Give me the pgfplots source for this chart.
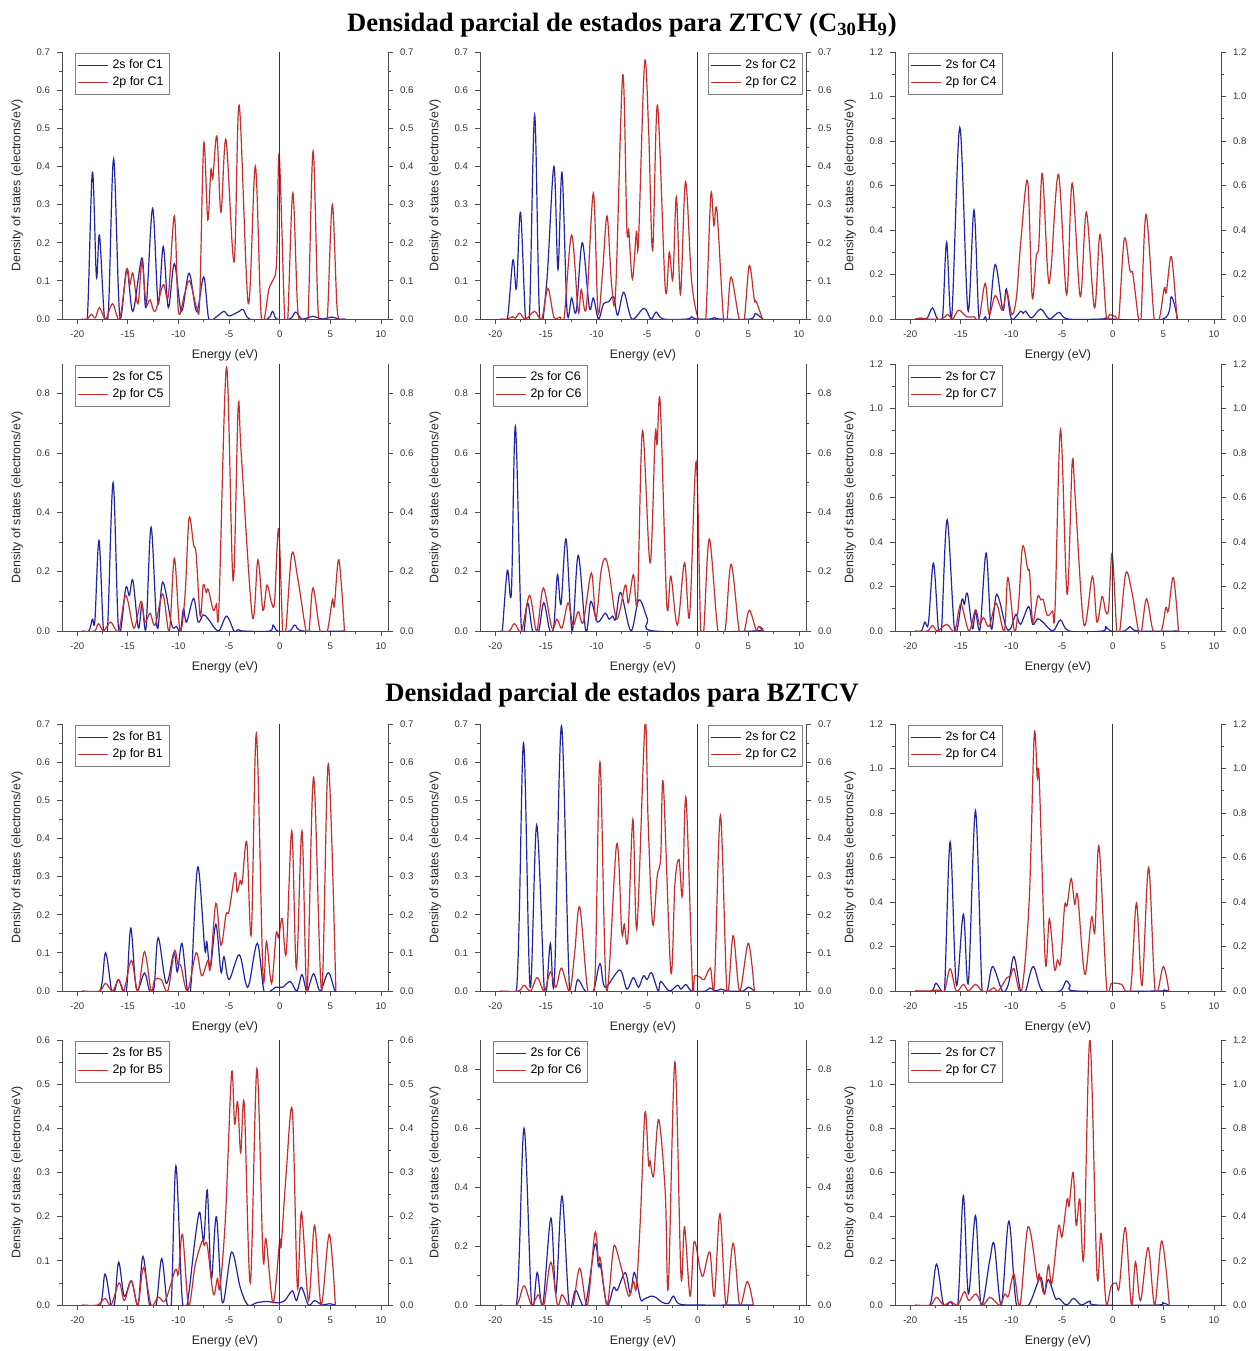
\documentclass[border=0pt]{standalone}
\usepackage{fontspec}
\setmainfont{Liberation Sans}
\newfontfamily\titlefont{Liberation Serif}
\usepackage{pgfplots}
\pgfplotsset{compat=1.18}

\definecolor{azulc}{RGB}{35,35,165}
\definecolor{rojoc}{RGB}{200,45,45}

\pgfplotsset{
  base/.style={scale only axis, width=163pt, height=133.5pt, anchor=north west,
    xmin=-21.5, xmax=10.7, ymin=0,
    xtick={-20,-15,...,10}, minor x tick num=1, minor y tick num=1,
    tick align=outside, axis line style={black!70,-}, tick style={black!70, line width=0.4pt},
    major tick length=2.5pt, minor tick length=1.5pt,
    ticklabel style={font=\fontsize{4.8}{5.5}\selectfont, text=black!80},
    /pgf/number format/assume math mode=true,
    yticklabel style={/pgf/number format/.cd, fixed, fixed zerofill, precision=1},
  },
  izq/.style={base, axis x line*=bottom, axis y line*=left,
    xlabel={Energy (eV)}, ylabel={Density of states (electrons/eV)},
    label style={font=\fontsize{6.2}{7}\selectfont, text=black!85},
    xlabel style={yshift=1pt},
    legend style={draw=black!50, line width=0.3pt, font=\fontsize{6.2}{7}\selectfont,
      inner sep=1pt, row sep=-1.5pt, legend cell align=left,
      at={(0.04,0.995)}, anchor=north west},
    legend image code/.code={\draw[#1] (0pt,0pt) -- (15pt,0pt);},
  },
  legder/.style={legend style={at={(0.99,0.995)}, anchor=north east}},
  der/.style={base, axis x line=none, axis y line*=right},
  abajo/.style={height=132.5pt},
  azul/.style={color=azulc, line width=0.6pt, smooth, tension=0.55},
  rojo/.style={color=rojoc, line width=0.6pt, smooth, tension=0.55},
  cero/.style={black!80, line width=0.5pt, forget plot},
}

\begin{document}
\begin{tikzpicture}
\useasboundingbox (0,0) rectangle (625pt,-675.5pt);

\node[font=\titlefont\bfseries\fontsize{13.3}{15}\selectfont] at (311pt,-12.5pt)
  {Densidad parcial de estados para ZTCV (C\textsubscript{30}H\textsubscript{9})};
\node[font=\titlefont\bfseries\fontsize{13.3}{15}\selectfont] at (311pt,-347.5pt)
  {Densidad parcial de estados para BZTCV};

% ---------- ZTCV, C1
\begin{axis}[izq, at={(31pt,-26pt)}, ymax=0.7, ytick={0,0.1,...,0.7}]
\addplot[azul] coordinates {(-19.5,0) (-19.0,0) (-18.5,0.385) (-18.1,0.11) (-17.8,0.22) (-17.3,0.0) (-16.9,0.03) (-16.4,0.42) (-15.8,0.01) (-15.1,0.13) (-14.5,0.02) (-13.6,0.16) (-13.2,0.03) (-12.55,0.29) (-12.0,0.04) (-11.5,0.19) (-11.0,0.03) (-10.4,0.145) (-9.7,0.02) (-8.95,0.12) (-8.2,0.02) (-7.5,0.11) (-7.0,0.0) (-6.3,0.005) (-5.5,0.02) (-5.0,0.008) (-4.0,0.02) (-3.6,0.025) (-3.0,0.0) (-1.2,0) (-0.7,0.02) (-0.3,0) (1.0,0) (1.6,0.018) (2.2,0) (3.3,0.007) (4.2,0) (5.2,0.005) (5.8,0) (6.5,0)};
\addlegendentry{2s for C1}
\addplot[rojo] coordinates {(-19.5,0) (-19.0,0) (-18.6,0.012) (-18.2,0.003) (-17.8,0.03) (-17.2,0.0) (-16.5,0.04) (-15.8,0.0) (-15.1,0.13) (-14.8,0.09) (-14.5,0.12) (-14.0,0.04) (-13.6,0.15) (-13.2,0.04) (-12.8,0.05) (-12.3,0.02) (-11.5,0.09) (-11.0,0.06) (-10.4,0.27) (-10.0,0.02) (-9.4,0.065) (-8.9,0.1) (-8.2,0.03) (-7.9,0.05) (-7.5,0.46) (-7.1,0.26) (-6.8,0.39) (-6.6,0.37) (-6.2,0.48) (-5.8,0.28) (-5.3,0.47) (-4.5,0.15) (-4.0,0.56) (-3.1,0.04) (-2.4,0.40) (-1.8,0.0) (-1.05,0.08) (-0.7,0.1) (-0.3,0.15) (-0.05,0.43) (0.5,0.0) (0.8,0.0) (1.3,0.33) (1.8,0.02) (2.4,0.0) (2.8,0.0) (3.3,0.44) (3.8,0.02) (4.3,0.0) (4.7,0.0) (5.2,0.30) (5.7,0.02) (6.3,0.0)};
\addlegendentry{2p for C1}
\addplot[cero] coordinates {(0,0) (0,0.7)};
\end{axis}
\begin{axis}[der, at={(31pt,-26pt)}, ymax=0.7, ytick={0,0.1,...,0.7}]
\end{axis}

% ---------- ZTCV, C2
\begin{axis}[izq, legder, at={(240pt,-26pt)}, ymax=0.7, ytick={0,0.1,...,0.7}]
\addplot[azul] coordinates {(-19.5,0) (-18.8,0) (-18.25,0.155) (-17.9,0.08) (-17.5,0.28) (-17.0,0.0) (-16.6,0.02) (-16.1,0.535) (-15.6,0.0) (-14.9,0.1) (-14.2,0.40) (-13.8,0.13) (-13.4,0.385) (-12.9,0.02) (-12.45,0.055) (-12.0,0.02) (-11.4,0.20) (-10.7,0.03) (-10.3,0.055) (-9.8,0.0) (-9.3,0.04) (-8.8,0.045) (-8.3,0.058) (-7.9,0.01) (-7.3,0.07) (-6.5,0.0) (-5.3,0.028) (-4.6,0.0) (-4.1,0.018) (-3.4,0.0) (-1.0,0) (-0.6,0.006) (-0.2,0) (1.3,0) (1.7,0.004) (2.1,0) (5.2,0) (5.7,0.014) (6.4,0)};
\addlegendentry{2s for C2}
\addplot[rojo] coordinates {(-19.5,0) (-18.8,0) (-18.3,0.006) (-18.0,0.002) (-17.6,0.015) (-17.0,0.0) (-16.1,0.02) (-15.4,0.0) (-14.8,0.08) (-14.2,0.005) (-13.6,0.005) (-13.2,0.0) (-12.45,0.22) (-11.8,0.02) (-11.5,0.077) (-11.0,0.03) (-10.3,0.33) (-9.85,0.02) (-9.4,0.12) (-8.95,0.27) (-8.5,0.09) (-8.1,0.075) (-7.4,0.64) (-7.0,0.24) (-6.8,0.23) (-6.45,0.105) (-6.05,0.23) (-5.85,0.2) (-5.25,0.67) (-4.85,0.5) (-4.45,0.18) (-3.97,0.56) (-3.2,0.08) (-2.8,0.175) (-2.45,0.105) (-2.1,0.32) (-1.7,0.065) (-1.2,0.36) (-0.6,0.1) (0.0,0.005) (0.4,0.0) (0.8,0.0) (1.3,0.325) (1.6,0.245) (1.9,0.285) (2.55,0.0) (2.9,0.0) (3.3,0.11) (4.1,0.0) (4.6,0.0) (5.1,0.14) (5.6,0.05) (5.8,0.045) (6.4,0.0)};
\addlegendentry{2p for C2}
\addplot[cero] coordinates {(0,0) (0,0.7)};
\end{axis}
\begin{axis}[der, at={(240pt,-26pt)}, ymax=0.7, ytick={0,0.1,...,0.7}]
\end{axis}

% ---------- ZTCV, C4
\begin{axis}[izq, at={(447.5pt,-26pt)}, ymax=1.2, ytick={0,0.2,...,1.2}]
\addplot[azul] coordinates {(-19.5,0) (-18.75,0) (-18.3,0.005) (-17.8,0.05) (-17.3,0.0) (-16.8,0.01) (-16.4,0.345) (-15.9,0.01) (-15.1,0.86) (-14.3,0.04) (-13.7,0.49) (-13.2,0.0) (-12.6,0.01) (-12.2,0.0) (-11.6,0.245) (-10.85,0.04) (-10.5,0.135) (-10.0,0.0) (-9.1,0.035) (-8.85,0.025) (-8.6,0.035) (-8.0,0.005) (-7.1,0.045) (-6.25,0.0) (-5.3,0.03) (-4.45,0.0) (-1.0,0) (-0.65,0.005) (-0.3,0) (5.0,0) (5.8,0.1) (6.4,0)};
\addlegendentry{2s for C4}
\addplot[rojo] coordinates {(-19.5,0) (-18.9,0.005) (-18.5,0) (-16.9,0) (-16.3,0.02) (-15.8,0.0) (-15.2,0.04) (-14.4,0.01) (-13.7,0.01) (-13.2,0.0) (-12.6,0.16) (-12.2,0.02) (-11.6,0.105) (-10.9,0.04) (-10.45,0.12) (-9.95,0.02) (-9.5,0.1) (-9.05,0.36) (-8.4,0.62) (-7.95,0.1) (-7.55,0.28) (-7.3,0.33) (-6.95,0.655) (-6.4,0.2) (-6.1,0.22) (-5.35,0.65) (-4.55,0.11) (-4.0,0.61) (-3.2,0.1) (-2.6,0.48) (-1.8,0.05) (-1.25,0.38) (-0.65,0.02) (-0.3,0.02) (0.3,0.01) (0.6,0.0) (1.15,0.36) (1.7,0.22) (2.0,0.2) (2.55,0.0) (2.8,0.0) (3.3,0.47) (4.1,0.0) (4.6,0.0) (5.1,0.14) (5.3,0.12) (5.8,0.28) (6.35,0.0)};
\addlegendentry{2p for C4}
\addplot[cero] coordinates {(0,0) (0,1.2)};
\end{axis}
\begin{axis}[der, at={(447.5pt,-26pt)}, ymax=1.2, ytick={0,0.2,...,1.2}]
\end{axis}

% ---------- ZTCV, C5
\begin{axis}[izq, at={(31pt,-182pt)}, ymax=0.9, ytick={0,0.2,...,0.8}]
\addplot[azul] coordinates {(-19.5,0) (-18.85,0) (-18.5,0.04) (-18.25,0.035) (-17.85,0.305) (-17.4,0.0) (-17.0,0.01) (-16.45,0.5) (-15.9,0.0) (-15.2,0.145) (-14.85,0.12) (-14.5,0.17) (-13.95,0.01) (-13.6,0.09) (-13.2,0.01) (-12.7,0.35) (-12.1,0.01) (-11.55,0.165) (-10.65,0.02) (-10.2,0.015) (-9.8,0.0) (-9.5,0.075) (-9.2,0.03) (-8.5,0.11) (-8.05,0.03) (-7.55,0.055) (-7.05,0.04) (-6.05,0.0) (-5.25,0.05) (-4.5,0.0) (-4.1,0.005) (-3.6,0) (-1.0,0) (-0.65,0.02) (-0.2,0) (1.0,0) (1.5,0.02) (2.3,0) (6.5,0)};
\addlegendentry{2s for C5}
\addplot[rojo] coordinates {(-19.5,0) (-18.3,0) (-17.9,0.025) (-17.4,0.0) (-16.7,0.03) (-15.9,0.0) (-15.2,0.12) (-14.4,0.01) (-13.7,0.1) (-13.3,0.03) (-12.8,0.06) (-12.3,0.02) (-11.55,0.125) (-10.9,0.0) (-10.4,0.245) (-9.85,0.0) (-9.35,0.12) (-8.95,0.38) (-8.5,0.29) (-8.25,0.26) (-7.85,0.05) (-7.55,0.155) (-7.25,0.13) (-7.05,0.14) (-6.55,0.07) (-6.25,0.09) (-6.0,0.08) (-5.25,0.89) (-4.6,0.17) (-4.1,0.755) (-3.8,0.6) (-2.7,0.05) (-2.15,0.24) (-1.65,0.07) (-1.25,0.155) (-0.8,0.095) (-0.5,0.1) (-0.1,0.345) (0.3,0.0) (0.6,0.0) (1.2,0.26) (1.8,0.175) (2.6,0.0) (2.9,0.0) (3.3,0.145) (4.0,0.0) (4.7,0.0) (5.2,0.105) (5.4,0.085) (5.85,0.24) (6.4,0.0)};
\addlegendentry{2p for C5}
\addplot[cero] coordinates {(0,0) (0,0.9)};
\end{axis}
\begin{axis}[der, at={(31pt,-182pt)}, ymax=0.9, ytick={0,0.2,...,0.8}]
\end{axis}

% ---------- ZTCV, C6
\begin{axis}[izq, at={(240pt,-182pt)}, ymax=0.9, ytick={0,0.2,...,0.8}]
\addplot[azul] coordinates {(-19.5,0) (-19.3,0) (-18.8,0.205) (-18.4,0.13) (-18.0,0.69) (-17.4,0.0) (-16.8,0.095) (-16.3,0.0) (-15.7,0.0) (-15.2,0.095) (-14.6,0.0) (-14.2,0.02) (-13.85,0.19) (-13.5,0.09) (-13.0,0.31) (-12.4,0.0) (-11.8,0.255) (-11.05,0.0) (-10.55,0.1) (-9.9,0.03) (-9.15,0.06) (-8.75,0.04) (-8.4,0.05) (-8.1,0.04) (-7.6,0.13) (-6.6,0.0) (-5.8,0.105) (-4.95,0.04) (-4.3,0.0) (5.6,0) (6.1,0.015) (6.5,0)};
\addlegendentry{2s for C6}
\addplot[rojo] coordinates {(-19.5,0) (-18.6,0) (-18.1,0.025) (-17.4,0.0) (-16.6,0.12) (-15.9,0.0) (-15.25,0.145) (-14.4,0.01) (-13.9,0.04) (-13.4,0.01) (-12.8,0.095) (-12.3,0.02) (-11.8,0.065) (-11.3,0.03) (-10.5,0.195) (-10.05,0.04) (-9.55,0.2) (-9.15,0.245) (-8.75,0.2) (-8.0,0.04) (-7.15,0.155) (-6.85,0.095) (-6.35,0.19) (-5.95,0.1) (-5.45,0.675) (-4.7,0.23) (-4.2,0.66) (-4.0,0.63) (-3.7,0.77) (-3.05,0.09) (-2.65,0.185) (-2.0,0.02) (-1.3,0.23) (-0.8,0.05) (-0.15,0.57) (0.3,0.0) (0.6,0.0) (1.15,0.31) (2.0,0.0) (2.7,0.0) (3.3,0.225) (4.1,0.0) (4.6,0.0) (5.1,0.07) (5.8,0.0) (6.0,0.015) (6.5,0.0)};
\addlegendentry{2p for C6}
\addplot[cero] coordinates {(0,0) (0,0.9)};
\end{axis}
\begin{axis}[der, at={(240pt,-182pt)}, ymax=0.9, ytick={0,0.2,...,0.8}]
\end{axis}

% ---------- ZTCV, C7
\begin{axis}[izq, at={(447.5pt,-182pt)}, ymax=1.2, ytick={0,0.2,...,1.2}]
\addplot[azul] coordinates {(-19.5,0) (-18.9,0) (-18.55,0.04) (-18.2,0.035) (-17.7,0.305) (-17.2,0.0) (-16.9,0.01) (-16.35,0.5) (-15.6,0.0) (-14.9,0.14) (-14.65,0.12) (-14.35,0.17) (-13.85,0.01) (-13.55,0.09) (-13.1,0.01) (-12.5,0.35) (-12.0,0.01) (-11.45,0.165) (-10.55,0.02) (-10.1,0.01) (-9.55,0.075) (-9.1,0.03) (-8.3,0.11) (-7.9,0.03) (-7.4,0.055) (-6.9,0.04) (-5.9,0.0) (-5.15,0.05) (-4.3,0.0) (-1.0,0) (-0.7,0.02) (-0.2,0) (1.2,0) (1.7,0.02) (2.5,0) (6.5,0)};
\addlegendentry{2s for C7}
\addplot[rojo] coordinates {(-19.5,0) (-18.3,0) (-17.8,0.025) (-17.3,0) (-16.4,0.03) (-15.6,0.0) (-15.0,0.12) (-14.2,0.0) (-13.55,0.095) (-13.15,0.03) (-12.75,0.06) (-12.2,0.02) (-11.5,0.125) (-10.7,0.0) (-10.35,0.24) (-9.7,0.0) (-9.3,0.12) (-8.9,0.38) (-8.4,0.28) (-8.2,0.26) (-7.9,0.04) (-7.4,0.155) (-7.1,0.14) (-6.85,0.14) (-6.45,0.07) (-5.95,0.09) (-5.7,0.09) (-5.15,0.905) (-4.5,0.165) (-4.0,0.755) (-3.7,0.6) (-2.85,0.03) (-2.0,0.245) (-1.55,0.04) (-1.05,0.155) (-0.7,0.09) (-0.4,0.1) (-0.05,0.35) (0.4,0.0) (0.7,0.0) (1.3,0.26) (1.9,0.175) (2.55,0.0) (2.85,0.0) (3.35,0.145) (4.0,0.0) (4.8,0.0) (5.25,0.105) (5.5,0.09) (6.0,0.24) (6.5,0.0)};
\addlegendentry{2p for C7}
\addplot[cero] coordinates {(0,0) (0,1.2)};
\end{axis}
\begin{axis}[der, at={(447.5pt,-182pt)}, ymax=1.2, ytick={0,0.2,...,1.2}]
\end{axis}

% ---------- BZTCV, B1
\begin{axis}[izq, at={(31pt,-362pt)}, ymax=0.7, ytick={0,0.1,...,0.7}]
\addplot[azul] coordinates {(-19.5,0) (-17.75,0) (-17.2,0.1) (-16.6,0.0) (-16.3,0.0) (-15.95,0.03) (-15.4,0.0) (-15.1,0.01) (-14.7,0.165) (-14.15,0.005) (-13.35,0.047) (-12.85,0.0) (-12.4,0.01) (-12.0,0.14) (-11.2,0.02) (-10.45,0.1) (-10.1,0.05) (-9.65,0.125) (-9.1,0.0) (-8.75,0.02) (-8.1,0.325) (-7.4,0.11) (-7.2,0.13) (-6.85,0.06) (-6.3,0.175) (-5.8,0.05) (-5.5,0.09) (-5.0,0.03) (-4.0,0.095) (-3.35,0.02) (-3.0,0.02) (-2.2,0.125) (-1.55,0.0) (-0.9,0.0) (-0.4,0.01) (0.3,0.01) (1.05,0.025) (1.7,0.0) (2.2,0.043) (2.7,0.0) (3.35,0.045) (4.0,0.0) (4.8,0.048) (5.45,0.0) (5.6,0)};
\addlegendentry{2s for B1}
\addplot[rojo] coordinates {(-19.5,0) (-17.8,0) (-17.2,0.02) (-16.5,0.0) (-15.9,0.03) (-15.4,0.0) (-14.65,0.08) (-14.0,0.0) (-13.35,0.103) (-12.7,0.0) (-12.35,0.03) (-11.7,0.03) (-11.05,0.0) (-10.4,0.105) (-10.05,0.07) (-9.75,0.065) (-9.1,0.0) (-8.25,0.1) (-7.7,0.04) (-7.1,0.08) (-6.85,0.06) (-6.3,0.23) (-5.8,0.12) (-5.3,0.2) (-5.0,0.21) (-4.4,0.31) (-4.2,0.26) (-3.9,0.29) (-3.7,0.285) (-3.25,0.39) (-2.8,0.15) (-2.3,0.675) (-1.65,0.045) (-1.3,0.13) (-0.8,0.02) (-0.35,0.15) (-0.1,0.14) (0.25,0.19) (0.65,0.1) (1.2,0.42) (1.65,0.06) (2.2,0.42) (2.7,0.0) (3.35,0.56) (4.15,0.0) (4.8,0.595) (5.55,0.0)};
\addlegendentry{2p for B1}
\addplot[cero] coordinates {(0,0) (0,0.7)};
\end{axis}
\begin{axis}[der, at={(31pt,-362pt)}, ymax=0.7, ytick={0,0.1,...,0.7}]
\end{axis}

% ---------- BZTCV, C2
\begin{axis}[izq, legder, at={(240pt,-362pt)}, ymax=0.7, ytick={0,0.1,...,0.7}]
\addplot[azul] coordinates {(-19.5,0) (-17.9,0) (-17.2,0.65) (-16.55,0.01) (-15.9,0.435) (-15.15,0.0) (-14.9,0.01) (-14.55,0.125) (-14.15,0.03) (-13.45,0.695) (-12.65,0.0) (-11.85,0.03) (-11.1,0.0) (-10.3,0.0) (-9.65,0.072) (-9.15,0.01) (-7.7,0.055) (-7.0,0.005) (-6.35,0.035) (-5.85,0.01) (-5.35,0.04) (-5.0,0.03) (-4.55,0.048) (-3.9,0.0) (-3.65,0.025) (-2.8,0.0) (-2.0,0.015) (-1.65,0.005) (-1.15,0.017) (-0.6,0.0) (0.8,0) (1.2,0.008) (1.8,0) (2.3,0.005) (3.0,0) (4.5,0) (5.0,0.01) (5.6,0)};
\addlegendentry{2s for C2}
\addplot[rojo] coordinates {(-19.5,0) (-17.7,0) (-17.15,0.015) (-16.5,0.0) (-15.85,0.035) (-15.15,0.0) (-14.55,0.05) (-14.0,0.01) (-13.45,0.06) (-12.65,0.0) (-12.15,0.1) (-11.65,0.22) (-10.85,0.0) (-10.15,0.03) (-9.65,0.6) (-9.0,0.0) (-8.0,0.385) (-7.5,0.155) (-7.25,0.175) (-6.9,0.135) (-6.4,0.45) (-6.0,0.165) (-5.2,0.7) (-4.9,0.45) (-4.45,0.175) (-4.0,0.3) (-3.65,0.35) (-3.4,0.545) (-2.65,0.05) (-2.25,0.28) (-1.85,0.345) (-1.5,0.25) (-1.15,0.505) (-0.5,0.01) (-0.3,0.04) (0.3,0.035) (0.65,0.03) (1.25,0.06) (1.65,0.02) (2.25,0.46) (2.9,0.0) (3.5,0.145) (4.15,0.0) (5.0,0.125) (5.6,0.0)};
\addlegendentry{2p for C2}
\addplot[cero] coordinates {(0,0) (0,0.7)};
\end{axis}
\begin{axis}[der, at={(240pt,-362pt)}, ymax=0.7, ytick={0,0.1,...,0.7}]
\end{axis}

% ---------- BZTCV, C4
\begin{axis}[izq, at={(447.5pt,-362pt)}, ymax=1.2, ytick={0,0.2,...,1.2}]
\addplot[azul] coordinates {(-19.5,0) (-17.9,0) (-17.45,0.035) (-16.9,0.0) (-16.6,0.01) (-16.05,0.67) (-15.45,0.03) (-14.75,0.345) (-14.25,0.04) (-13.55,0.81) (-12.9,0.0) (-12.4,0.0) (-11.85,0.11) (-10.9,0.0) (-10.3,0.03) (-9.75,0.155) (-9.1,0.0) (-8.6,0.0) (-7.85,0.11) (-6.95,0.0) (-5.2,0.0) (-4.6,0.045) (-4.2,0.025) (-3.6,0.0) (4.5,0) (5.0,0.005) (5.5,0)};
\addlegendentry{2s for C4}
\addplot[rojo] coordinates {(-19.5,0) (-17.8,0) (-17.4,0.005) (-17.0,0.0) (-16.6,0.0) (-16.05,0.1) (-15.45,0.0) (-14.75,0.03) (-14.25,0.0) (-13.55,0.03) (-12.9,0.0) (-12.2,0.0) (-11.75,0.015) (-11.3,0.0) (-10.45,0.06) (-10.1,0.065) (-9.75,0.1) (-9.0,0.0) (-8.25,0.4) (-7.75,1.15) (-7.45,0.96) (-7.25,0.95) (-6.65,0.13) (-6.25,0.325) (-5.75,0.1) (-5.45,0.14) (-5.15,0.13) (-4.75,0.38) (-4.5,0.385) (-4.1,0.505) (-3.75,0.39) (-3.45,0.425) (-2.75,0.075) (-2.1,0.33) (-1.75,0.27) (-1.35,0.65) (-0.6,0.02) (-0.1,0.035) (0.85,0.03) (1.75,0.0) (2.35,0.395) (2.9,0.025) (3.55,0.555) (4.2,0.0) (5.0,0.11) (5.55,0.0)};
\addlegendentry{2p for C4}
\addplot[cero] coordinates {(0,0) (0,1.2)};
\end{axis}
\begin{axis}[der, at={(447.5pt,-362pt)}, ymax=1.2, ytick={0,0.2,...,1.2}]
\end{axis}

% ---------- BZTCV, B5
\begin{axis}[izq, abajo, at={(31pt,-520pt)}, ymax=0.6, ytick={0,0.1,...,0.6}]
\addplot[azul] coordinates {(-19.5,0) (-17.75,0) (-17.25,0.07) (-16.65,0.0) (-16.3,0.005) (-15.9,0.097) (-15.35,0.02) (-14.65,0.055) (-14.0,0.0) (-13.5,0.11) (-12.85,0.0) (-12.2,0.0) (-11.65,0.105) (-11.1,0.0) (-10.7,0.005) (-10.25,0.315) (-9.65,0.02) (-9.15,0.0) (-8.35,0.15) (-7.9,0.21) (-7.5,0.145) (-7.15,0.26) (-6.75,0.06) (-6.25,0.2) (-5.65,0.005) (-4.75,0.12) (-3.9,0.04) (-3.15,0.0) (-2.3,0.005) (-1.3,0.008) (-0.2,0.005) (0.5,0.01) (1.25,0.032) (1.65,0.01) (2.15,0.04) (2.85,0.0) (3.45,0.01) (4.2,0.0) (4.9,0.003) (5.5,0)};
\addlegendentry{2s for B5}
\addplot[rojo] coordinates {(-19.5,0) (-18.0,0) (-17.25,0.015) (-16.65,0.0) (-15.85,0.05) (-15.35,0.01) (-14.65,0.055) (-14.0,0.0) (-13.45,0.085) (-12.7,0.0) (-12.0,0.018) (-11.3,0.01) (-10.3,0.08) (-10.0,0.07) (-9.6,0.16) (-9.0,0.0) (-8.35,0.09) (-7.65,0.145) (-7.45,0.135) (-7.15,0.135) (-6.55,0.025) (-6.15,0.06) (-5.9,0.04) (-5.35,0.2) (-4.75,0.525) (-4.45,0.41) (-4.15,0.46) (-3.85,0.345) (-3.5,0.455) (-2.9,0.05) (-2.25,0.535) (-1.65,0.11) (-1.35,0.15) (-0.65,0.005) (0.0,0.145) (0.15,0.135) (0.65,0.3) (1.25,0.44) (1.75,0.04) (2.15,0.21) (2.85,0.01) (3.45,0.18) (4.1,0.0) (4.9,0.16) (5.5,0.0)};
\addlegendentry{2p for B5}
\addplot[cero] coordinates {(0,0) (0,0.6)};
\end{axis}
\begin{axis}[der, abajo, at={(31pt,-520pt)}, ymax=0.6, ytick={0,0.1,...,0.6}]
\end{axis}

% ---------- BZTCV, C6
\begin{axis}[izq, abajo, at={(240pt,-520pt)}, ymax=0.9, ytick={0,0.2,...,0.8}]
\addplot[azul] coordinates {(-19.5,0) (-17.9,0) (-17.15,0.6) (-16.4,0.0) (-15.85,0.11) (-15.3,0.0) (-14.5,0.295) (-14.0,0.04) (-13.4,0.37) (-12.7,0.0) (-12.05,0.05) (-11.1,0.0) (-10.15,0.205) (-9.8,0.13) (-9.6,0.135) (-8.95,0.0) (-8.3,0.06) (-7.95,0.05) (-7.15,0.11) (-6.65,0.04) (-6.25,0.11) (-5.65,0.02) (-5.3,0.02) (-4.6,0.03) (-4.1,0.025) (-3.55,0.01) (-2.9,0.005) (-2.4,0.03) (-1.9,0.005) (-0.6,0.0) (5.5,0)};
\addlegendentry{2s for C6}
\addplot[rojo] coordinates {(-19.5,0) (-17.9,0) (-17.15,0.065) (-16.4,0.0) (-15.75,0.035) (-15.2,0.0) (-14.5,0.145) (-13.85,0.0) (-13.4,0.035) (-12.8,0.0) (-12.3,0.0) (-11.65,0.125) (-10.9,0.0) (-10.15,0.245) (-9.8,0.15) (-9.6,0.155) (-8.95,0.0) (-8.4,0.17) (-8.15,0.2) (-7.5,0.12) (-6.8,0.03) (-6.35,0.08) (-6.05,0.06) (-5.65,0.3) (-5.2,0.655) (-4.85,0.48) (-4.7,0.49) (-4.35,0.44) (-3.85,0.63) (-3.2,0.38) (-2.9,0.06) (-2.25,0.825) (-1.65,0.1) (-1.3,0.265) (-0.75,0.03) (-0.35,0.215) (0.25,0.12) (0.55,0.1) (1.2,0.18) (1.65,0.03) (2.2,0.31) (2.8,0.0) (3.5,0.21) (4.15,0.0) (4.9,0.08) (5.5,0.0)};
\addlegendentry{2p for C6}
\addplot[cero] coordinates {(0,0) (0,0.9)};
\end{axis}
\begin{axis}[der, abajo, at={(240pt,-520pt)}, ymax=0.9, ytick={0,0.2,...,0.8}]
\end{axis}

% ---------- BZTCV, C7
\begin{axis}[izq, abajo, at={(447.5pt,-520pt)}, ymax=1.2, ytick={0,0.2,...,1.2}]
\addplot[azul] coordinates {(-19.5,0) (-18.05,0) (-17.4,0.185) (-16.7,0.0) (-16.0,0.015) (-15.3,0.0) (-14.75,0.495) (-14.25,0.05) (-13.55,0.405) (-13.0,0.0) (-12.15,0.2) (-11.7,0.275) (-11.0,0.0) (-10.25,0.38) (-9.5,0.0) (-8.3,0.0) (-7.15,0.125) (-6.75,0.05) (-6.35,0.115) (-5.65,0.03) (-5.3,0.03) (-4.55,0.0) (-3.85,0.03) (-3.1,0.0) (-2.25,0.018) (-1.65,0.0) (4.4,0) (4.95,0.01) (5.5,0)};
\addlegendentry{2s for C7}
\addplot[rojo] coordinates {(-19.5,0) (-18.0,0) (-17.4,0.035) (-16.7,0.0) (-16.0,0.015) (-15.3,0.0) (-14.65,0.06) (-14.2,0.02) (-13.5,0.05) (-12.85,0.0) (-12.15,0.035) (-11.7,0.02) (-11.1,0.0) (-10.65,0.05) (-10.3,0.04) (-9.75,0.14) (-9.15,0.0) (-8.35,0.355) (-7.45,0.12) (-7.25,0.14) (-6.75,0.05) (-6.35,0.18) (-6.0,0.1) (-5.35,0.355) (-5.0,0.31) (-4.5,0.48) (-4.3,0.45) (-3.9,0.6) (-3.6,0.36) (-3.25,0.48) (-2.85,0.22) (-2.25,1.2) (-1.55,0.14) (-1.15,0.325) (-0.65,0.01) (-0.15,0.085) (0.35,0.1) (0.65,0.08) (1.25,0.35) (1.85,0.0) (2.25,0.195) (2.75,0.02) (3.5,0.26) (4.15,0.0) (4.85,0.29) (5.6,0.0)};
\addlegendentry{2p for C7}
\addplot[cero] coordinates {(0,0) (0,1.2)};
\end{axis}
\begin{axis}[der, abajo, at={(447.5pt,-520pt)}, ymax=1.2, ytick={0,0.2,...,1.2}]
\end{axis}

\end{tikzpicture}
\end{document}
